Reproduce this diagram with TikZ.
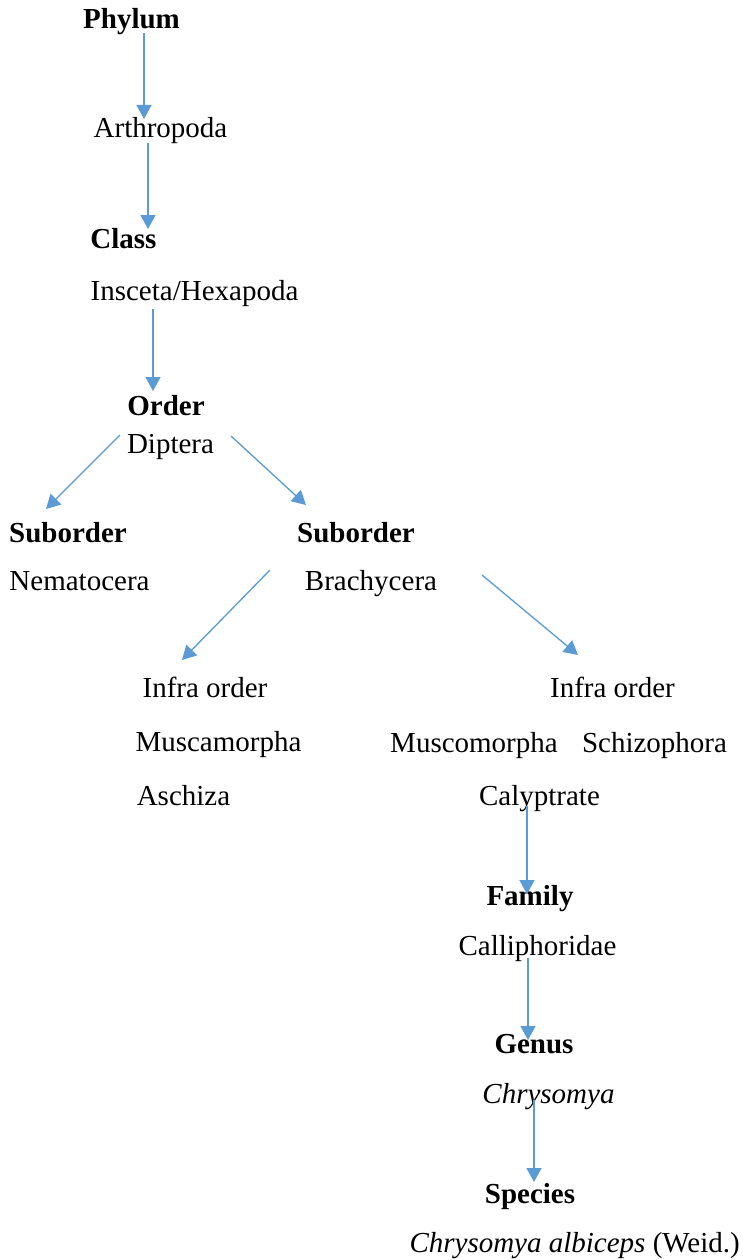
\documentclass[tikz,border=0pt]{standalone}
\usepackage{fontspec}
\setmainfont{Liberation Serif}
\usetikzlibrary{arrows.meta}
\definecolor{arrblue}{HTML}{5B9BD5}
\tikzset{
  lbl/.style={inner sep=0pt, anchor=base, font=\fontsize{29}{34}\selectfont},
  hd/.style={lbl, font=\fontsize{29}{34}\selectfont\bfseries},
  arr/.style={draw=arrblue, line width=1.3pt, -{Triangle[width=15pt,length=14pt]}, fill=arrblue}
}
\begin{document}
\begin{tikzpicture}[x=1pt,y=-1pt]
\useasboundingbox[fill=white] (0,0) rectangle (742,1260);
% nodes
\node[hd]  (phylum) at (131.5,29) {Phylum};
\node[lbl] (arthro) at (160.5,138) {Arthropoda};
\node[hd]  (class)  at (123.5,248) {Class};
\node[lbl] (insect) at (194.5,300) {Insceta/Hexapoda};
\node[hd]  (order)  at (166,415) {Order};
\node[lbl] (dipt)   at (170.5,453) {Diptera};
\node[hd]  (subL)   at (68,542) {Suborder};
\node[hd]  (subR)   at (356,542) {Suborder};
\node[lbl] (nema)   at (79.5,590) {Nematocera};
\node[lbl] (brachy) at (371,590) {Brachycera};
\node[lbl] (infL)   at (205,697) {Infra order};
\node[lbl] (infR)   at (612.5,697) {Infra order};
\node[lbl] (muscaL) at (218.5,751) {Muscamorpha};
\node[lbl] (muscoR) at (474,752) {Muscomorpha};
\node[lbl] (schizo) at (654.5,752) {Schizophora};
\node[lbl] (aschiza) at (183.5,805) {Aschiza};
\node[lbl] (calyp)  at (539.5,805) {Calyptrate};
\node[hd]  (family) at (530,905) {Family};
\node[lbl] (calli)  at (537.5,955) {Calliphoridae};
\node[hd]  (genus)  at (534,1053) {Genus};
\node[lbl,font=\fontsize{29}{34}\selectfont\itshape] (chrys) at (548.5,1103) {Chrysomya};
\node[hd]  (species) at (530,1203) {Species};
\node[lbl,anchor=base east] (albi) at (740,1252) {\textit{Chrysomya albiceps} (Weid.)};
% connector end points
\coordinate (a1s) at (144,33);   \coordinate (a1e) at (144,119);
\coordinate (a2s) at (148,143);  \coordinate (a2e) at (148,229);
\coordinate (a3s) at (153,309);  \coordinate (a3e) at (153,391);
\coordinate (a4s) at (120,435);  \coordinate (a4e) at (46,509);
\coordinate (a5s) at (231,436);  \coordinate (a5e) at (306,505);
\coordinate (a6s) at (270,570);  \coordinate (a6e) at (182,660);
\coordinate (a7s) at (482,575);  \coordinate (a7e) at (578,655);
\coordinate (a8s) at (527,806);  \coordinate (a8e) at (527,894);
\coordinate (a9s) at (528,958);  \coordinate (a9e) at (528,1040);
\coordinate (a10s) at (534,1100); \coordinate (a10e) at (534,1182);
% connectors
\draw[arr] (a1s) -- (a1e);
\draw[arr] (a2s) -- (a2e);
\draw[arr] (a3s) -- (a3e);
\draw[arr] (a4s) -- (a4e);
\draw[arr] (a5s) -- (a5e);
\draw[arr] (a6s) -- (a6e);
\draw[arr] (a7s) -- (a7e);
\draw[arr] (a8s) -- (a8e);
\draw[arr] (a9s) -- (a9e);
\draw[arr] (a10s) -- (a10e);
\end{tikzpicture}
\end{document}
